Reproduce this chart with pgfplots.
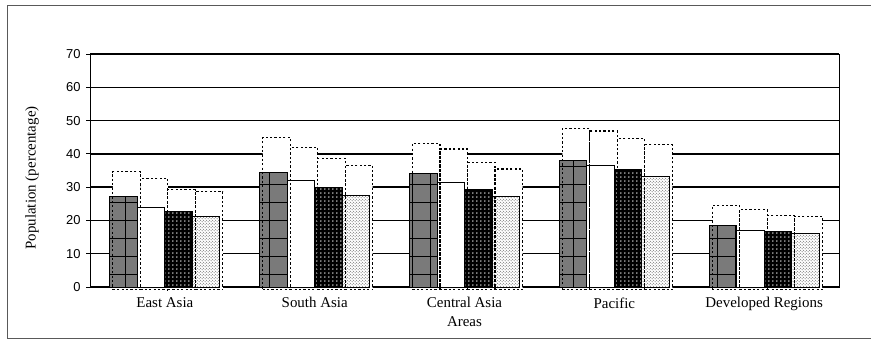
\documentclass[border=0pt]{standalone}
\usepackage{fontspec}
\setmainfont{Liberation Serif}
\newfontfamily\arialfont{Liberation Sans}
\usepackage{pgfplots}
\pgfplotsset{compat=1.18}
\usetikzlibrary{patterns,patterns.meta}

% coarse black grid laid over the grey bars
\pgfdeclarepattern{
  name=coarsegrid, type=uncolored,
  bottom left={\pgfpoint{-1pt}{-1pt}}, top right={\pgfpoint{19pt}{19pt}},
  tile size={\pgfpoint{18pt}{18pt}},
  code={\pgfsetlinewidth{0.8pt}
    \pgfpathmoveto{\pgfpoint{0pt}{0pt}}\pgfpathlineto{\pgfpoint{18pt}{0pt}}
    \pgfpathmoveto{\pgfpoint{0pt}{0pt}}\pgfpathlineto{\pgfpoint{0pt}{18pt}}
    \pgfusepath{stroke}}
}
% square grid of dots
\pgfdeclarepattern{
  name=griddots, type=uncolored,
  bottom left={\pgfpoint{0pt}{0pt}}, top right={\pgfpoint{4pt}{4pt}},
  tile size={\pgfpoint{4pt}{4pt}},
  code={\pgfpathcircle{\pgfpoint{2pt}{2pt}}{0.75pt}\pgfusepath{fill}}
}
% fine staggered stipple
\pgfdeclarepattern{
  name=stipple, type=uncolored,
  bottom left={\pgfpoint{0pt}{0pt}}, top right={\pgfpoint{3pt}{3pt}},
  tile size={\pgfpoint{3pt}{3pt}},
  code={\pgfpathcircle{\pgfpoint{0.75pt}{0.75pt}}{0.5pt}
        \pgfpathcircle{\pgfpoint{2.25pt}{2.25pt}}{0.5pt}\pgfusepath{fill}}
}

\pgfplotstableread{
x  ea    eb    ec    ed    ua    ub    uc    ud
0  27.1  23.8  22.8  21.3  35.5  33.5  30.1  29.4
1  34.4  32.1  29.9  27.4  45.8  42.8  39.5  37.4
2  34.1  31.4  29.3  27.1  44.0  42.3  38.3  36.3
3  38.1  36.4  35.3  33.1  48.4  47.7  45.4  43.6
4  18.4  17.1  16.8  16.1  25.3  24.1  22.4  22.1
}\data

\begin{document}
\begin{tikzpicture}
\useasboundingbox (0,0) rectangle (871bp,346bp);
\draw[black!65, line width=1bp] (871bp,340bp) -- (7.5bp,340bp) -- (7.5bp,7.5bp) -- (871bp,7.5bp);
\begin{axis}[
  at={(90bp,59bp)}, anchor=south west,
  scale only axis, width=749bp, height=233bp,
  ybar, clip=false,
  xmin=-0.5, xmax=4.5, ymin=0, ymax=70,
  ytick={0,10,...,70},
  xtick={0,1,2,3,4},
  xticklabels={East Asia,South Asia,Central Asia,Pacific,Developed Regions},
  xtick style={draw=none},
  extra x ticks={0.5,1.5,2.5,3.5},
  extra x tick labels={},
  extra x tick style={major tick length=4bp, tick style={draw=black, line width=1bp}},
  tick align=outside, xtick pos=bottom, ytick pos=left,
  major tick length=4bp,
  ytick style={black, line width=1bp},
  ymajorgrids, grid style={black, line width=1.4bp},
  axis line style={black, line width=1bp},
  bar width=0.1836,
  /pgf/number format/assume math mode=true,
  yticklabel style={font=\arialfont\fontsize{13}{14}\selectfont, xshift=-2bp},
  xticklabel style={font=\fontsize{15}{16}\selectfont, yshift=-3bp},
  xlabel={Areas}, ylabel={Population (percentage)},
  every axis y label/.style={at={(axis description cs:-0.0774,0.468)}, rotate=90, anchor=center,
    font=\fontsize{15}{16}\selectfont},
  every axis x label/.style={at={(axis description cs:0.5,0)}, yshift=-35bp, anchor=center,
    font=\fontsize{15}{16}\selectfont},
  dashfill/.style={draw=none, fill=white, xshift=3bp, yshift=-2.8bp},
  dashline/.style={draw=black, fill=none, line width=1.1bp, dash pattern=on 2.2bp off 2.2bp, xshift=3bp, yshift=-2.8bp},
  solidbar/.style={draw=black, line width=1bp},
]
% white backing of the dashed upper-range bars
\addplot[dashfill, bar shift=-0.2754] table[x=x,y=ua] {\data};
\addplot[dashfill, bar shift=-0.0918] table[x=x,y=ub] {\data};
\addplot[dashfill, bar shift=0.0918]  table[x=x,y=uc] {\data};
\addplot[dashfill, bar shift=0.2754]  table[x=x,y=ud] {\data};
% patterned bars
\addplot[solidbar, fill=black!52, postaction={pattern=coarsegrid, pattern color=black}, bar shift=-0.2754] table[x=x,y=ea] {\data};
\addplot[solidbar, fill=none, bar shift=-0.0918] table[x=x,y=eb] {\data};
\addplot[solidbar, fill=black, postaction={pattern=griddots, pattern color=white}, bar shift=0.0918] table[x=x,y=ec] {\data};
\addplot[solidbar, fill=white, postaction={pattern=stipple, pattern color=black!75}, bar shift=0.2754] table[x=x,y=ed] {\data};
% dashed outlines on top
\addplot[dashline, bar shift=-0.2754] table[x=x,y=ua] {\data};
\addplot[dashline, bar shift=-0.0918] table[x=x,y=ub] {\data};
\addplot[dashline, bar shift=0.0918]  table[x=x,y=uc] {\data};
\addplot[dashline, bar shift=0.2754]  table[x=x,y=ud] {\data};
\end{axis}
\end{tikzpicture}
\end{document}
